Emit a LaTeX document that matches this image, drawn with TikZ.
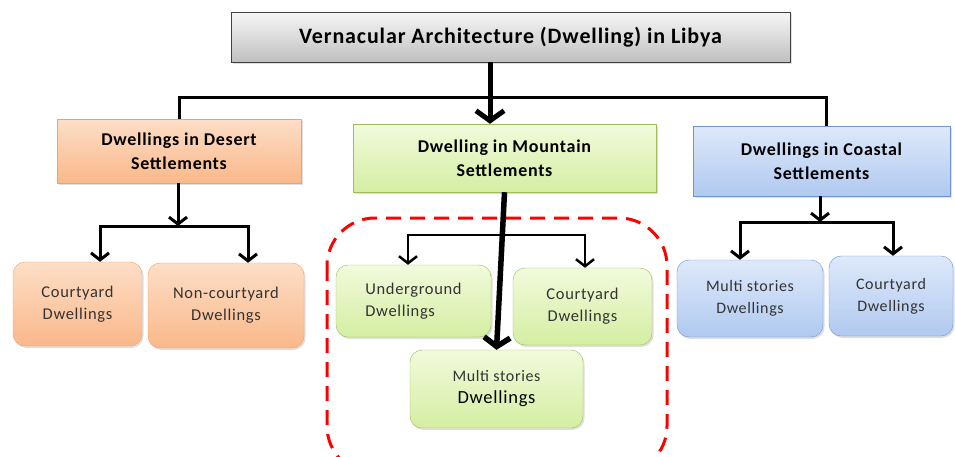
\documentclass[tikz,border=0pt]{standalone}
\usepackage{fontspec}
\setmainfont{Carlito}[LetterSpace=4]
\usetikzlibrary{arrows.meta,shadows}

\definecolor{greytop}{RGB}{246,246,246}
\definecolor{greybot}{RGB}{192,192,192}
\definecolor{orangetop}{RGB}{253,222,198}
\definecolor{orangebot}{RGB}{250,184,138}
\definecolor{orangeline}{RGB}{247,160,100}
\definecolor{greentop}{RGB}{242,250,220}
\definecolor{greenbot}{RGB}{212,238,162}
\definecolor{greenline}{RGB}{155,190,90}
\definecolor{bluetop}{RGB}{222,233,250}
\definecolor{bluebot}{RGB}{176,201,240}
\definecolor{blueline}{RGB}{112,148,210}

\begin{document}
\begin{tikzpicture}[x=1pt,y=-1pt,
	box/.style={draw, inner sep=0pt, align=center,
		drop shadow={opacity=0.25, shadow xshift=1.5pt, shadow yshift=-2pt}},
	head/.style={box, font=\bfseries\fontsize{18}{24}\selectfont},
	sub/.style={box, rounded corners=12pt, text=black!80, font=\fontsize{16.5}{22}\selectfont},
	desert/.style={top color=orangetop, bottom color=orangebot, draw=orangeline},
	mount/.style={top color=greentop, bottom color=greenbot, draw=greenline},
	coast/.style={top color=bluetop, bottom color=bluebot, draw=blueline},
	link/.style={line width=3pt, -{Straight Barb[length=7pt,width=18pt]}},
	bus/.style={line width=3pt},
]
	\clip (0,0) rectangle (955,456);

	\node[box, top color=greytop, bottom color=greybot, draw=black!75, minimum width=559pt, minimum height=50pt,
		font=\bfseries\fontsize{22}{24}\selectfont] (top) at (510.5,37) {Vernacular Architecture (Dwelling) in Libya};

	\node[head, desert, minimum width=244pt, minimum height=64pt] (desert) at (179,151) {Dwellings in Desert\\Settlements};
	\node[head, mount, minimum width=303pt, minimum height=68pt] (mountain) at (504.5,158) {Dwelling in Mountain\\Settlements};
	\node[head, coast, minimum width=257pt, minimum height=70pt] (coastal) at (821.5,161) {Dwellings in Coastal\\Settlements};

	\node[sub, desert, minimum width=129pt, minimum height=84pt] (dcourt) at (77.5,304) {Courtyard\\Dwellings};
	\node[sub, desert, minimum width=156pt, minimum height=85pt] (dnon) at (226,305.5) {Non-courtyard\\Dwellings};

	\node[sub, mount, minimum width=155pt, minimum height=72pt, align=left] (munder) at (413.5,301) {Underground\\Dwellings};
	\node[sub, mount, minimum width=139pt, minimum height=77pt] (mcourt) at (582.5,306.5) {Courtyard\\Dwellings};
	\node[sub, mount, minimum width=173pt, minimum height=78pt] (mmulti) at (496.5,389)
		{{\fontsize{16}{20}\selectfont Multi stories}\\{\color{black}\fontsize{18.5}{22}\selectfont Dwellings}};

	\node[sub, coast, minimum width=146pt, minimum height=77pt, font=\fontsize{16}{22}\selectfont] (smulti) at (750,298.5) {Multi stories\\Dwellings};
	\node[sub, coast, minimum width=124pt, minimum height=80pt, font=\fontsize{16}{22}\selectfont] (scourt) at (891,296) {Courtyard\\Dwellings};

	% main branches
	\coordinate (split) at (490,97);
	\draw[line width=5pt, -{Straight Barb[length=10pt,width=28pt]}] (split |- top.south) -- (split |- mountain.north);
	\draw[bus] (desert.north) -- (desert.north |- split) -- ([xshift=4.5pt]coastal.north |- split) -- ([xshift=4.5pt]coastal.north);

	% desert
	\coordinate (dsplit) at (178,226);
	\draw[link] (desert.south -| dsplit) -- (dsplit);
	\draw[link] (dsplit) -| ([xshift=22.5pt]dcourt.north);
	\draw[link] (dsplit) -| ([xshift=22pt]dnon.north);

	% mountain
	\draw[red, line width=3pt, dash pattern=on 15pt off 9pt, rounded corners=48pt] (327,218) rectangle (667,474);
	\coordinate (msplit) at (504,235);
	\draw[link, line width=2.5pt] (msplit) -| ([xshift=-5.5pt]munder.north);
	\draw[link, line width=2.5pt] (msplit) -| ([xshift=2.5pt]mcourt.north);
	\draw[line width=5.5pt, -{Straight Barb[length=9pt,width=26pt]}] (mountain.south) -- (mmulti.north);

	% coastal
	\coordinate (ssplit) at (820,222);
	\draw[link] (coastal.south -| ssplit) -- (ssplit);
	\draw[link] (ssplit) -| ([xshift=-10pt]smulti.north);
	\draw[link] (ssplit) -| ([xshift=2pt]scourt.north);
\end{tikzpicture}
\end{document}
